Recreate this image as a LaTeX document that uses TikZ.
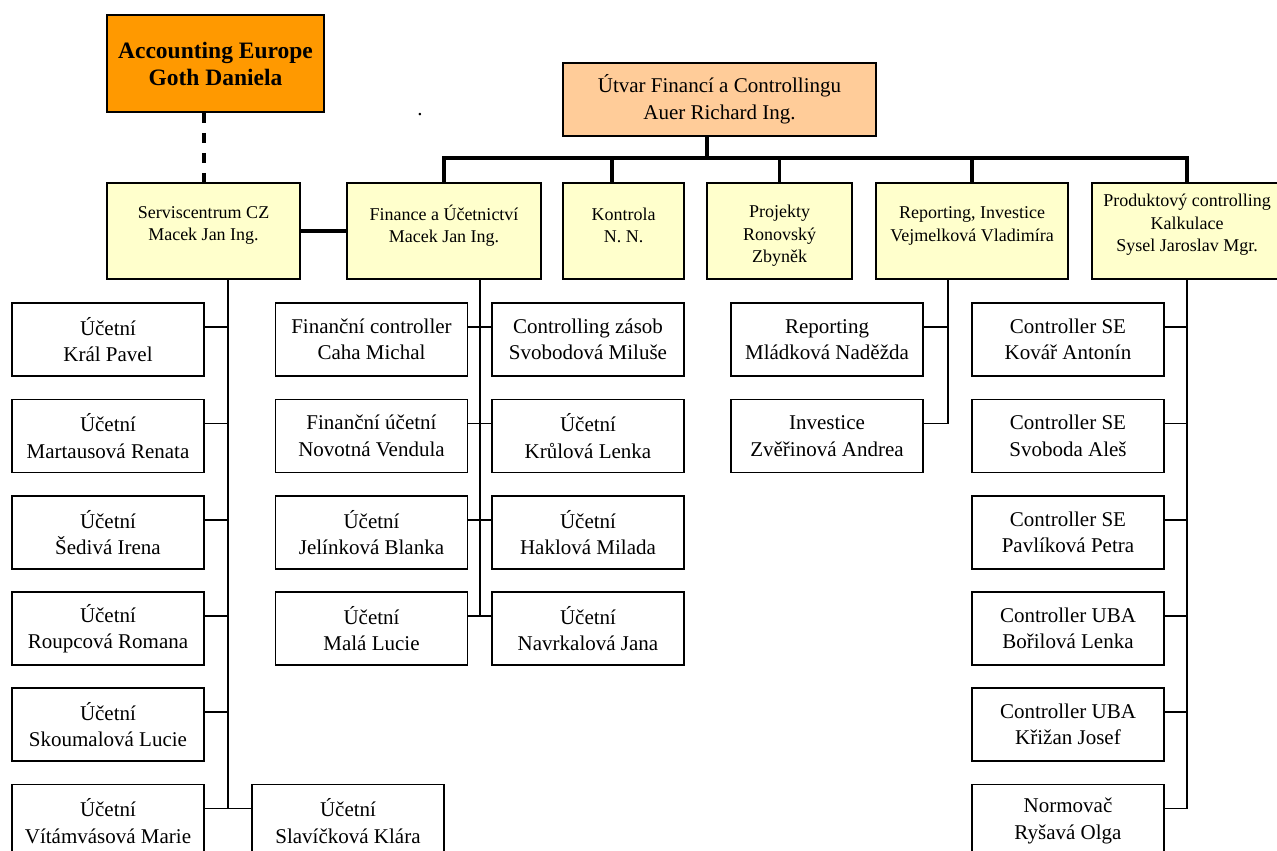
\documentclass[tikz,border=0pt]{standalone}
\usepackage{fontspec}
\setmainfont{Liberation Serif}
\definecolor{accorange}{HTML}{FF9900}
\definecolor{headpeach}{HTML}{FFCC99}
\definecolor{unityellow}{HTML}{FFFFCC}
\tikzset{
  accbox/.style={draw, line width=1.6pt, fill=accorange, minimum width=217pt, minimum height=97pt, inner sep=0pt, align=center, font=\fontsize{23.5}{27}\selectfont\bfseries},
  headbox/.style={draw, line width=1.6pt, fill=headpeach, minimum width=313pt, minimum height=73pt, inner sep=0pt, align=center, font=\fontsize{21}{27}\selectfont},
  unitbox/.style={draw, line width=1.6pt, fill=unityellow, minimum height=96pt, inner sep=0pt},
  unittext/.style={align=center, inner sep=0pt, font=\fontsize{18}{22.5}\selectfont},
  staffbox/.style={draw, line width=1.6pt, fill=white, minimum width=192pt, minimum height=73pt, inner sep=0pt, align=center, font=\fontsize{21}{26.5}\selectfont},
  busline/.style={line width=3.2pt},
  link/.style={line width=1.6pt},
  dashline/.style={line width=4pt, dash pattern=on 10pt off 10pt}
}
\begin{document}
\begin{tikzpicture}[x=1pt,y=-1pt]
  \useasboundingbox (0,0) rectangle (1277,851);

  % top level
  \node[accbox] (acc) at (215.5,63.5) {Accounting Europe\\Goth Daniela};
  \node[headbox] (utvar) at (719.5,99.5) {Útvar Financí a Controllingu\\Auer Richard Ing.};
  \node[font=\fontsize{21}{26}\selectfont, inner sep=0pt] (dot) at (420,115) {.};

  % second level
  \node[unitbox, minimum width=193pt] (svc) at (203.5,231) {};
  \node[unittext] (svc-t) at (203.5,225.5) {Serviscentrum CZ\\Macek Jan Ing.};
  \node[unitbox, minimum width=194pt] (fin) at (444,231) {};
  \node[unittext] (fin-t) at (444,225.5) {Finance a Účetnictví\\Macek Jan Ing.};
  \node[unitbox, minimum width=121pt] (kon) at (623.5,231) {};
  \node[unittext] (kon-t) at (623.5,225.5) {Kontrola\\N. N.};
  \node[unitbox, minimum width=145pt] (proj) at (779.5,231) {};
  \node[unittext] (proj-t) at (779.5,236) {Projekty\\Ronovský\\Zbyněk};
  \node[unitbox, minimum width=192pt] (rep) at (972,231) {};
  \node[unittext] (rep-t) at (972,226) {Reporting, Investice\\Vejmelková Vladimíra};
  \node[unitbox, minimum width=190pt] (prod) at (1187,231) {};
  \node[unittext] (prod-t) at (1187,225) {Produktový controlling\\Kalkulace\\Sysel Jaroslav Mgr.};

  % Serviscentrum staff
  \node[staffbox] (kral) at (108,339.5) {Účetní\\Král Pavel};
  \node[staffbox] (mart) at (108,436) {Účetní\\Martausová Renata};
  \node[staffbox] (sediva) at (108,532.5) {Účetní\\Šedivá Irena};
  \node[staffbox] (roup) at (108,628.5) {Účetní\\Roupcová Romana};
  \node[staffbox] (skoum) at (108,724.5) {Účetní\\Skoumalová Lucie};
  \node[staffbox] (vitam) at (108,821) {Účetní\\Vítámvásová Marie};
  \node[staffbox] (slav) at (348,821) {Účetní\\Slavíčková Klára};

  % Finance staff
  \node[staffbox] (caha) at (371.5,339.5) {Finanční controller\\Caha Michal};
  \node[staffbox] (novot) at (371.5,436) {Finanční účetní\\Novotná Vendula};
  \node[staffbox] (jelin) at (371.5,532.5) {Účetní\\Jelínková Blanka};
  \node[staffbox] (mala) at (371.5,628.5) {Účetní\\Malá Lucie};
  \node[staffbox] (svob) at (588,339.5) {Controlling zásob\\Svobodová Miluše};
  \node[staffbox] (krul) at (588,436) {Účetní\\Krůlová Lenka};
  \node[staffbox] (hakl) at (588,532.5) {Účetní\\Haklová Milada};
  \node[staffbox] (navr) at (588,628.5) {Účetní\\Navrkalová Jana};

  % Reporting staff
  \node[staffbox] (mlad) at (827,339.5) {Reporting\\Mládková Naděžda};
  \node[staffbox] (zver) at (827,436) {Investice\\Zvěřinová Andrea};

  % Produktovy controlling staff
  \node[staffbox] (kovar) at (1068,339.5) {Controller SE\\Kovář Antonín};
  \node[staffbox] (svoboda) at (1068,436) {Controller SE\\Svoboda Aleš};
  \node[staffbox] (pavl) at (1068,532.5) {Controller SE\\Pavlíková Petra};
  \node[staffbox] (boril) at (1068,628.5) {Controller UBA\\Bořilová Lenka};
  \node[staffbox] (krizan) at (1068,724.5) {Controller UBA\\Křižan Josef};
  \node[staffbox] (rysava) at (1068,821) {Normovač\\Ryšavá Olga};

  % bus
  \coordinate (hub) at (707,158);
  \draw[busline] (utvar.south -| hub) -- (hub);
  \draw[busline] (fin.north) |- (hub) -| (prod.north);
  \draw[busline] ([xshift=-11.5pt]kon.north |- hub) -- ([xshift=-11.5pt]kon.north);
  \draw[busline] (proj.north |- hub) -- (proj.north);
  \draw[busline] (rep.north |- hub) -- (rep.north);
  \draw[busline] (svc.east) -- (fin.west);
  \draw[dashline] (svc.north |- acc.south) -- (svc.north);

  % columns
  \coordinate (lcol) at (228,0);
  \coordinate (fcol) at (480,0);
  \coordinate (rcol) at (948,0);
  \draw[link] (svc.south -| lcol) -- ([yshift=12.5pt]vitam.east -| lcol);
  \foreach \n in {kral,mart,sediva,roup,skoum,vitam}
    \draw[link] ([yshift=12.5pt]\n.east) -- ([yshift=12.5pt]\n.east -| lcol);
  \draw[link] ([yshift=12.5pt]slav.west) -- ([yshift=12.5pt]slav.west -| lcol);

  \draw[link] (fin.south -| fcol) -- ([yshift=12.5pt]mala.east -| fcol);
  \foreach \n in {caha,novot,jelin,mala}
    \draw[link] ([yshift=12.5pt]\n.east) -- ([yshift=12.5pt]\n.east -| fcol);
  \foreach \n in {svob,krul,hakl,navr}
    \draw[link] ([yshift=12.5pt]\n.west) -- ([yshift=12.5pt]\n.west -| fcol);

  \draw[link] (rep.south -| rcol) -- ([yshift=12.5pt]zver.east -| rcol);
  \foreach \n in {mlad,zver}
    \draw[link] ([yshift=12.5pt]\n.east) -- ([yshift=12.5pt]\n.east -| rcol);

  \draw[link] (prod.south) -- ([yshift=12.5pt]rysava.east -| prod.south);
  \foreach \n in {kovar,svoboda,pavl,boril,krizan,rysava}
    \draw[link] ([yshift=12.5pt]\n.east) -- ([yshift=12.5pt]\n.east -| prod.south);
\end{tikzpicture}
\end{document}
